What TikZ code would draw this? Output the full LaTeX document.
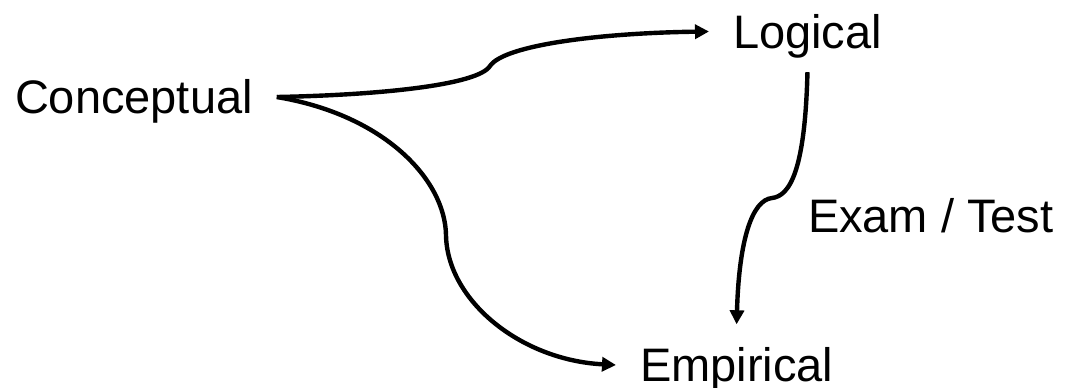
\documentclass[tikz,border=0pt]{standalone}
\usepackage{fontspec}
\setmainfont{Liberation Sans}
\usepackage{tikz}
\usetikzlibrary{arrows.meta}

\begin{document}
\begin{tikzpicture}[x=0.5pt, y=-0.5pt,
  lbl/.style={font=\fontsize{23.5}{28}\selectfont, inner sep=0pt, outer sep=12pt,
    text height=16.7pt, text depth=0pt},
  arr/.style={line width=2.2pt, -{Triangle[length=7pt,width=7pt]}}]
\useasboundingbox (0,0) rectangle (1066,387);
% labels
\node[lbl, anchor=west] (concept) at (-9,97) {Conceptual};
\node[lbl, anchor=west] (logical) at (709,31.5) {Logical};
\node[lbl, anchor=west] (empirical) at (616,365) {Empirical};
\node[lbl, anchor=west, outer sep=0pt] (exam) at (808,216) {Exam / Test};
% arrows
\draw[arr] (concept.east) .. controls (380,95) and (478,85) .. (490,66)
  .. controls (504,45) and (600,33) .. (logical.west);
\draw[arr] (concept.east) .. controls (385,115) and (445,180) .. (446,235)
  .. controls (447,300) and (520,360) .. (empirical.west);
\draw[arr] (logical.south) .. controls (805,170) and (790,196) .. (772,198)
  .. controls (752,200) and (739,240) .. (empirical.north);
\end{tikzpicture}
\end{document}
